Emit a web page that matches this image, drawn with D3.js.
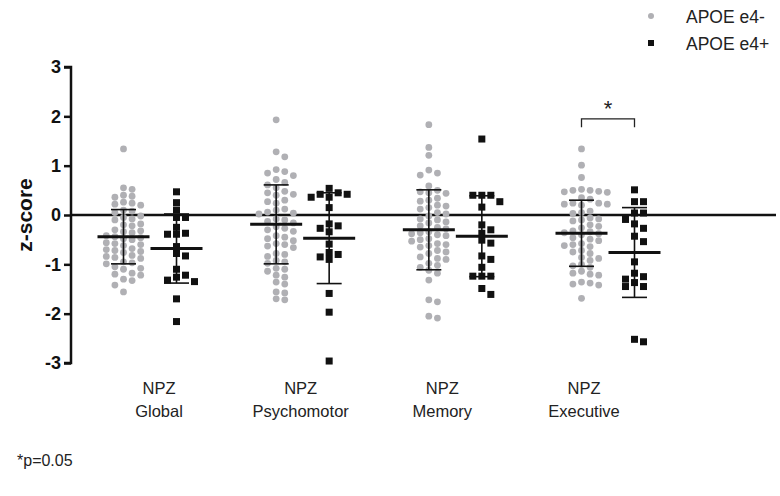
<!DOCTYPE html>
<html>
<head>
<meta charset="utf-8">
<script src="https://cdn.jsdelivr.net/npm/d3@7"></script>
<style>
  html, body { margin: 0; padding: 0; background: #fff; }
  #chart { width: 780px; height: 496px; }
</style>
</head>
<body>
<div id="chart"></div>
<script>
// ── Data ───────────────────────────────────────────────────────
const categories = ['Global', 'Psychomotor', 'Memory', 'Executive'];
const seriesNames = ['APOE e4-', 'APOE e4+'];
const yTicks = [-3, -2, -1, 0, 1, 2, 3];

const negGlobal = [1.34, 0.55, 0.52, 0.40, 0.38, 0.36, 0.26, 0.24, 0.22, 0.20, 0.10, 0.08, 0.05,
  -0.02, -0.05, -0.08, -0.10, -0.18, -0.20, -0.22, -0.30, -0.32, -0.34, -0.36,
  -0.42, -0.44, -0.46, -0.48, -0.50, -0.56, -0.58, -0.60, -0.62, -0.68, -0.70, -0.72, -0.74, -0.76,
  -0.82, -0.84, -0.86, -0.88, -0.95, -0.97, -0.99, -1.05, -1.08, -1.10, -1.18, -1.20, -1.22,
  -1.30, -1.33, -1.42, -1.56];
const negPsychomotor = [1.93, 1.28, 1.18, 0.92, 0.88, 0.85, 0.80, 0.72, 0.66, 0.61, 0.55,
  0.48, 0.45, 0.42, 0.40, 0.30, 0.27, 0.24, 0.12, 0.10, 0.06, 0.04, 0.02,
  -0.08, -0.10, -0.13, -0.16, -0.24, -0.27, -0.30, -0.33, -0.42, -0.45, -0.48, -0.52,
  -0.58, -0.60, -0.63, -0.66, -0.78, -0.80, -0.84, -0.92, -0.95, -0.98, -1.08, -1.10, -1.14,
  -1.22, -1.26, -1.36, -1.40, -1.56, -1.58, -1.70, -1.72];
const negMemory = [1.83, 1.37, 1.21, 0.91, 0.85, 0.81, 0.59, 0.50, 0.47, 0.45, 0.44,
  0.34, 0.30, 0.28, 0.20, 0.18, 0.15, 0.12, 0.05, 0.02, -0.02,
  -0.08, -0.10, -0.14, -0.16, -0.22, -0.25, -0.28, -0.34, -0.36, -0.38, -0.40, -0.42,
  -0.48, -0.50, -0.53, -0.58, -0.60, -0.62, -0.65, -0.72, -0.75, -0.78, -0.85, -0.88, -0.90,
  -0.98, -1.02, -1.06, -1.12, -1.18, -1.32, -1.72, -1.76, -2.05, -2.09];
const negExecutive = [1.34, 1.01, 0.76, 0.52, 0.50, 0.48, 0.47, 0.50, 0.46, 0.35, 0.32,
  0.24, 0.22, 0.20, 0.22, 0.24, 0.08, 0.05, 0.03, -0.06, -0.08, -0.10, -0.12,
  -0.20, -0.23, -0.26, -0.32, -0.34, -0.36, -0.38, -0.40, -0.46, -0.49, -0.52,
  -0.58, -0.60, -0.62, -0.64, -0.72, -0.75, -0.78, -0.86, -0.88, -0.92,
  -1.00, -1.03, -1.06, -1.14, -1.18, -1.20, -1.22, -1.36, -1.38, -1.40, -1.42, -1.69];

const posGlobal = [0.47, 0.25, 0.10, -0.05, -0.05, -0.25, -0.37, -0.39, -0.39, -0.64, -0.78,
  -0.83, -1.10, -1.22, -1.26, -1.32, -1.35, -1.70, -2.16];
const posPsychomotor = [0.54, 0.45, 0.42, 0.42, 0.36, 0.36, 0.15, -0.18, -0.22, -0.27, -0.34,
  -0.59, -0.76, -0.80, -0.85, -0.90, -1.59, -1.97, -2.96];
const posMemory = [1.54, 0.40, 0.40, 0.40, 0.27, 0.16, -0.20, -0.30, -0.37, -0.51, -0.57,
  -0.83, -0.90, -1.06, -1.24, -1.24, -1.24, -1.49, -1.61];
const posExecutive = [0.51, 0.27, 0.27, 0.04, 0.04, -0.09, -0.18, -0.27, -0.43, -0.54, -0.95,
  -1.18, -1.25, -1.30, -1.37, -1.45, -1.45, -2.52, -2.57];

// group means and SDs as drawn
const negMeans = [-0.44, -0.19, -0.30, -0.37];
const negSDs   = [0.55, 0.80, 0.81, 0.67];
const posMeans = [-0.68, -0.47, -0.43, -0.76];
const posSDs   = [0.70, 0.92, 0.82, 0.91];

const negSeries = [negGlobal, negPsychomotor, negMemory, negExecutive];
const posSeries = [posGlobal, posPsychomotor, posMemory, posExecutive];

// ── Chart ──────────────────────────────────────────────────────
const W = 780, H = 496;
const FONT = "'Liberation Sans', Arial, sans-serif";

const svg = d3.select('#chart').append('svg')
  .attr('width', W).attr('height', H);

const y = d3.scaleLinear().domain([-3, 3]).range([363, 67]);
const xGroup = d3.scalePoint().domain(categories).range([150, 608]);
const xSeries = d3.scalePoint().domain(seriesNames).range([-26.5, 26.5]);
const xLabel = d3.scalePoint().domain(categories).range([159, 584]);

const gray = '#b0b0b4';
const ink = '#111';

// beeswarm: spread points of near-equal value sideways
function swarm(values, cx, step) {
  const minDy = 6.6;
  const placed = [];
  const sorted = values.slice().sort((a, b) => b - a);
  sorted.forEach(v => {
    const py = y(v);
    for (let i = 0; i < 40; i++) {
      const k = i === 0 ? 0 : (i % 2 ? (i + 1) / 2 : -i / 2);
      const px = cx + k * step / 2;
      const hit = placed.some(p => Math.abs(p.x - px) < step * 0.95 && Math.abs(p.y - py) < minDy);
      if (!hit) { placed.push({ x: px, y: py, v }); break; }
    }
  });
  return placed;
}

// zero reference line
svg.append('line')
  .attr('x1', 71).attr('x2', 776)
  .attr('y1', y(0)).attr('y2', y(0))
  .attr('stroke', ink).attr('stroke-width', 2.5);

// y axis
const yAxis = svg.append('g')
  .attr('transform', 'translate(71,0)')
  .call(d3.axisLeft(y).tickValues(yTicks).tickSize(7).tickPadding(3).tickFormat(d3.format('d')));
yAxis.select('.domain').attr('stroke', ink).attr('stroke-width', 2.5).attr('d', `M-7,${y(3)}H0V${y(-3)}H-7`);
yAxis.selectAll('.tick line').attr('stroke', ink).attr('stroke-width', 2.5);
yAxis.selectAll('.tick text')
  .attr('fill', ink)
  .attr('font-family', FONT)
  .attr('font-size', '18px')
  .attr('font-weight', 'bold')
  .text(d => d < 0 ? '-' + Math.abs(d) : d);

svg.append('text')
  .attr('transform', `translate(32,${y(0)}) rotate(-90)`)
  .attr('text-anchor', 'middle')
  .attr('fill', ink)
  .attr('font-family', FONT)
  .attr('font-size', '21px')
  .attr('font-weight', 'bold')
  .text('z-score');

// points
categories.forEach((cat, gi) => {
  const cxNeg = xGroup(cat) + xSeries(seriesNames[0]);
  const cxPos = xGroup(cat) + xSeries(seriesNames[1]);

  svg.append('g').selectAll('circle')
    .data(swarm(negSeries[gi], cxNeg, 8.6))
    .enter().append('circle')
    .attr('cx', d => d.x).attr('cy', d => d.y)
    .attr('r', 3.4)
    .attr('fill', gray);

  svg.append('g').selectAll('rect')
    .data(swarm(posSeries[gi], cxPos, 9))
    .enter().append('rect')
    .attr('x', d => d.x - 3.5).attr('y', d => d.y - 3.5)
    .attr('width', 7).attr('height', 7)
    .attr('fill', ink);

  // mean ± SD
  [[cxNeg, negMeans[gi], negSDs[gi]], [cxPos, posMeans[gi], posSDs[gi]]].forEach(([cx, m, sd]) => {
    const g = svg.append('g').attr('stroke', ink);
    g.append('line').attr('x1', cx).attr('x2', cx)
      .attr('y1', y(m + sd)).attr('y2', y(m - sd)).attr('stroke-width', 1.6);
    [m + sd, m - sd].forEach(v => {
      g.append('line').attr('x1', cx - 12.5).attr('x2', cx + 12.5)
        .attr('y1', y(v)).attr('y2', y(v)).attr('stroke-width', 1.6);
    });
    g.append('line').attr('x1', cx - 26).attr('x2', cx + 26)
      .attr('y1', y(m)).attr('y2', y(m)).attr('stroke-width', 3);
  });
});

// category labels
categories.forEach(cat => {
  const t = svg.append('text')
    .attr('x', xLabel(cat))
    .attr('text-anchor', 'middle')
    .attr('fill', '#222')
    .attr('font-family', FONT)
    .attr('font-size', '16.5px');
  t.append('tspan').attr('x', xLabel(cat)).attr('y', 394).text('NPZ');
  t.append('tspan').attr('x', xLabel(cat)).attr('y', 417).text(cat);
});

// significance bracket on Executive
const bx1 = xGroup('Executive') + xSeries(seriesNames[0]);
const bx2 = xGroup('Executive') + xSeries(seriesNames[1]);
svg.append('path')
  .attr('d', `M${bx1},${y(1.78)}V${y(1.95)}H${bx2}V${y(1.78)}`)
  .attr('fill', 'none').attr('stroke', '#222').attr('stroke-width', 1.3);
svg.append('text')
  .attr('x', (bx1 + bx2) / 2).attr('y', 116)
  .attr('text-anchor', 'middle')
  .attr('fill', '#222')
  .attr('font-family', FONT)
  .attr('font-size', '22px')
  .text('*');

// legend
const legend = svg.append('g').attr('font-family', FONT).attr('font-size', '17.5px').attr('fill', '#222');
legend.append('circle').attr('cx', 651).attr('cy', 16).attr('r', 3).attr('fill', gray);
legend.append('text').attr('x', 686).attr('y', 23).text(seriesNames[0]);
legend.append('rect').attr('x', 648).attr('y', 40).attr('width', 6).attr('height', 6).attr('fill', ink);
legend.append('text').attr('x', 686).attr('y', 50).text(seriesNames[1]);

// footnote
svg.append('text')
  .attr('x', 17).attr('y', 466)
  .attr('fill', '#222')
  .attr('font-family', FONT)
  .attr('font-size', '16px')
  .text('*p=0.05');
</script>
</body>
</html>
